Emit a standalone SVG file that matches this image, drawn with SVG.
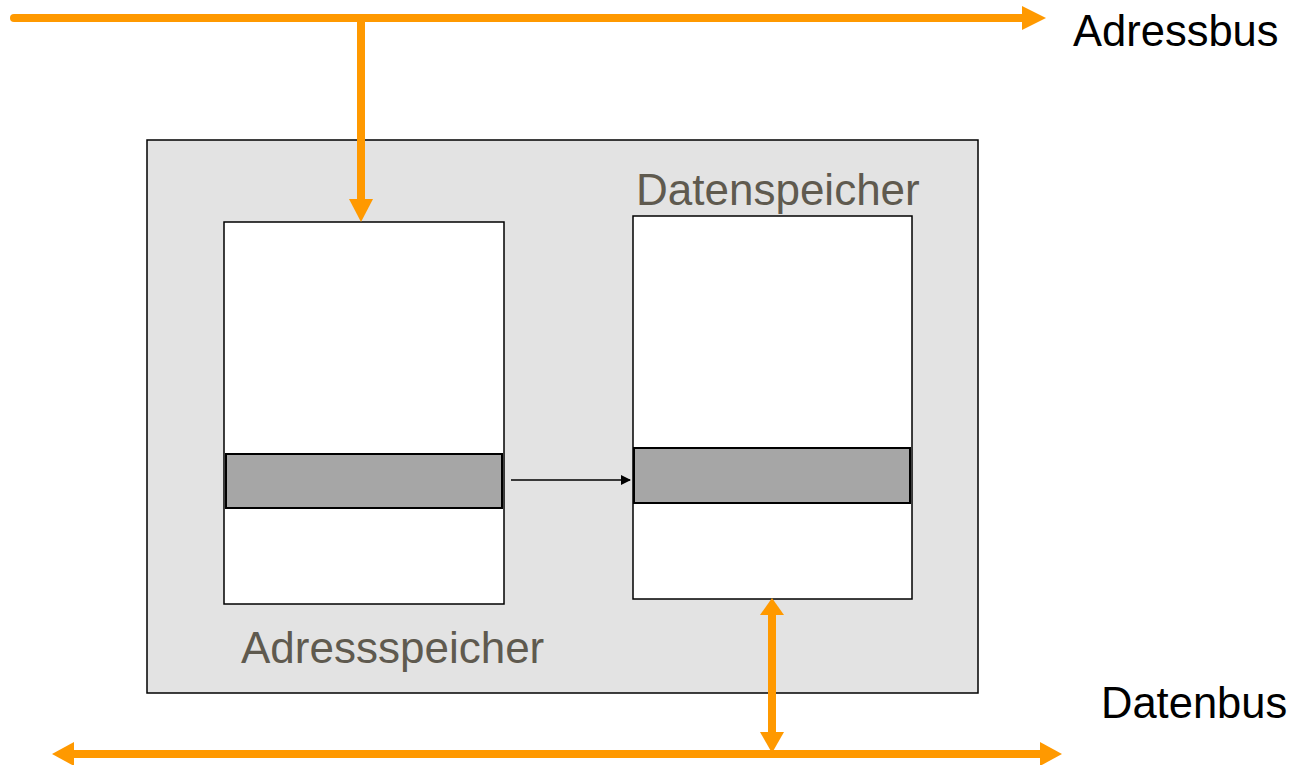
<svg xmlns="http://www.w3.org/2000/svg" width="1304" height="765" viewBox="0 0 1304 765">
<style>
.bus{stroke:#ff9900;stroke-width:8;fill:none}
.head{fill:#ff9900}
.lbl{font-family:"Liberation Sans",Arial,sans-serif;font-size:43.5px;fill:#000}
.glbl{font-family:"Liberation Sans",Arial,sans-serif;font-size:44px;fill:#5f5a4f}
.box{fill:#fff;stroke:#000;stroke-width:1.5}
.cell{fill:#a6a6a6;stroke:#000;stroke-width:2}
</style>
<defs>
<marker id="blk" markerWidth="10" markerHeight="10" refX="9" refY="5" orient="auto" markerUnits="userSpaceOnUse" viewBox="0 0 10 10">
<path d="M0,0 L10,5 L0,10 Z" fill="#000"/>
</marker>
</defs>
<g id="container">
<rect x="147" y="140" width="831" height="553" fill="#e3e3e3" stroke="#000" stroke-width="1.5"/>
</g>
<g id="adressspeicher">
<rect class="box" x="224" y="222" width="280" height="382"/>
<rect class="cell" x="226" y="454" width="276" height="54"/>
<text class="glbl" x="241" y="663">Adressspeicher</text>
</g>
<g id="datenspeicher">
<rect class="box" x="633" y="216" width="279" height="383"/>
<rect class="cell" x="634" y="448" width="276" height="55"/>
<text class="glbl" x="636" y="205">Datenspeicher</text>
</g>
<g id="adressbus-label"><text class="lbl" x="1073" y="46">Adressbus</text></g>
<g id="datenbus-label"><text class="lbl" x="1101" y="718">Datenbus</text></g>
<g id="connectors">
<line class="bus" x1="14" y1="18" x2="1024" y2="18" stroke-linecap="round"/>
<polygon class="head" points="1022,6 1046,18 1022,30"/>
<line class="bus" x1="361" y1="18" x2="361" y2="201"/>
<polygon class="head" points="349,199 373,199 361,222"/>
<line class="bus" x1="72" y1="754" x2="1042" y2="754"/>
<polygon class="head" points="74,742 52,754 74,766"/>
<polygon class="head" points="1040,742 1062,754 1040,766"/>
<line class="bus" x1="772" y1="612" x2="772" y2="734"/>
<polygon class="head" points="760,615 772,598 784,615"/>
<polygon class="head" points="760,732 772,753 784,732"/>
<line x1="511" y1="480" x2="630" y2="480" stroke="#000" stroke-width="1.5" marker-end="url(#blk)"/>
</g>
</svg>
